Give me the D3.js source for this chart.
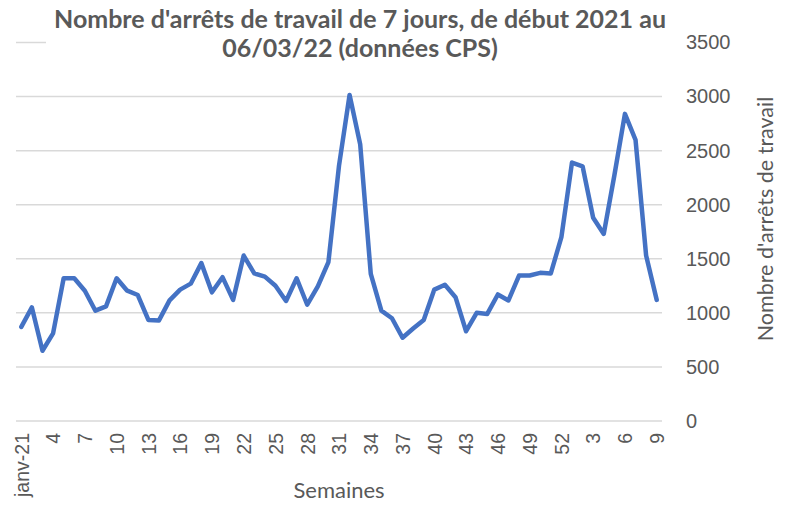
<!DOCTYPE html>
<html>
<head>
<meta charset="utf-8">
<script src="https://cdn.jsdelivr.net/npm/d3@7"></script>
<style>
  body { margin: 0; background: #fff; }
  svg { display: block; font-family: Lato, 'Open Sans', sans-serif; }
</style>
</head>
<body>
<svg id="chart" width="785" height="509"></svg>
<script>
// semaines 2021 (1..52) puis 2022 (1..9)
let weeks = [];
for (let w = 1; w <= 52; w++) weeks.push(w === 1 ? 'janv-21' : String(w));
for (let w = 1; w <= 9; w++) weeks.push(String(w));

let arrets = [870, 1050, 650, 810, 1320, 1320, 1205, 1020, 1060, 1320,
  1205, 1165, 935, 930, 1115, 1215, 1270, 1460, 1190, 1330,
  1120, 1530, 1365, 1335, 1250, 1110, 1320, 1075, 1245, 1470,
  2360, 3015, 2560, 1360, 1020, 950, 770, 855, 935, 1215,
  1260, 1145, 830, 1000, 990, 1170, 1115, 1345, 1345, 1370,
  1365, 1700, 2390, 2355, 1880, 1730, 2270, 2840, 2600, 1530, 1120];

let yTicks = [0, 500, 1000, 1500, 2000, 2500, 3000, 3500];
let titleLines = ["Nombre d'arrêts de travail de 7 jours, de début 2021 au", '06/03/22 (données CPS)'];

let plotLeft = 16;
let plotRight = 662;
let plotTop = 42.5;
let plotBottom = 421;
let textColor = '#595959';

const svg = d3.select('#chart');

let x = d3.scalePoint()
  .domain(d3.range(weeks.length))
  .range([plotLeft, plotRight])
  .padding(0.5);

let y = d3.scaleLinear()
  .domain([0, 3500])
  .range([plotBottom, plotTop]);

// grille
svg.append('g')
  .selectAll('line')
  .data(yTicks)
  .enter()
  .append('line')
  .attr('x1', plotLeft)
  .attr('x2', plotRight)
  .attr('y1', d => y(d))
  .attr('y2', d => y(d))
  .attr('stroke', '#d9d9d9')
  .attr('stroke-width', 1.5);

// axe droit
let yAxis = d3.axisRight(y)
  .tickValues(yTicks)
  .tickFormat(d3.format('d'))
  .tickSize(0)
  .tickPadding(24);
let yG = svg.append('g')
  .attr('transform', 'translate(' + plotRight + ',0)')
  .call(yAxis);
yG.select('.domain').remove();
yG.selectAll('text')
  .attr('fill', textColor)
  .style('font-size', '20px');

// axe bas
let xAxis = d3.axisBottom(x)
  .tickValues(d3.range(0, weeks.length, 3))
  .tickFormat(i => weeks[i])
  .tickSize(0);
let xG = svg.append('g')
  .attr('transform', 'translate(0,' + plotBottom + ')')
  .call(xAxis);
xG.select('.domain').remove();
xG.selectAll('text')
  .attr('fill', textColor)
  .style('font-size', '19.5px')
  .attr('text-anchor', 'end')
  .attr('transform', 'rotate(-90)')
  .attr('x', -12)
  .attr('y', 0)
  .attr('dy', '0.35em');

// courbe
let line = d3.line()
  .x((d, i) => x(i))
  .y(d => y(d));
svg.append('path')
  .attr('d', line(arrets))
  .attr('fill', 'none')
  .attr('stroke', '#4472c4')
  .attr('stroke-width', 4.5)
  .attr('stroke-linejoin', 'round')
  .attr('stroke-linecap', 'round');

// titre
svg.append('rect')
  .attr('x', 46)
  .attr('y', 6)
  .attr('width', 616)
  .attr('height', 60)
  .attr('fill', '#fff');
let title = svg.append('text')
  .attr('text-anchor', 'middle')
  .attr('fill', textColor)
  .style('font-size', '25px')
  .style('font-weight', 'bold');
title.selectAll('tspan')
  .data(titleLines)
  .enter()
  .append('tspan')
  .attr('x', 360)
  .attr('y', (d, i) => 28 + i * 29)
  .text(d => d);

svg.append('text')
  .attr('x', 339)
  .attr('y', 498)
  .attr('text-anchor', 'middle')
  .attr('fill', textColor)
  .style('font-size', '22px')
  .text('Semaines');

svg.append('text')
  .attr('transform', 'translate(773,219) rotate(-90)')
  .attr('text-anchor', 'middle')
  .attr('fill', textColor)
  .style('font-size', '21.5px')
  .text("Nombre d'arrêts de travail");
</script>
</body>
</html>
